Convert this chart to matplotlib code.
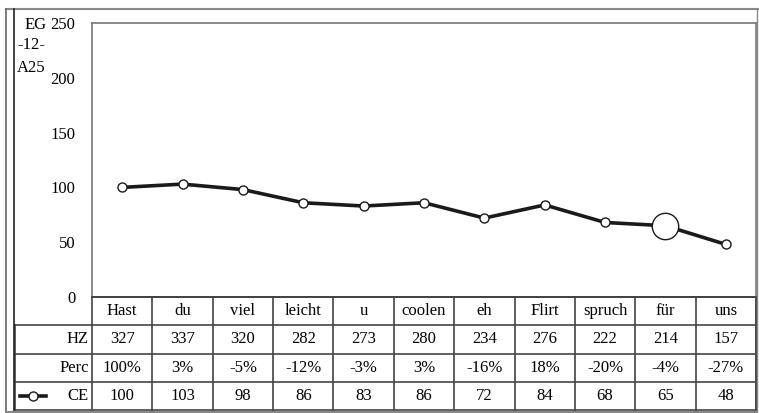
import matplotlib.pyplot as plt
from matplotlib.lines import Line2D

plt.rcParams['font.family'] = ['Liberation Serif', 'DejaVu Serif']

words = ['Hast', 'du', 'viel', 'leicht', 'u', 'coolen', 'eh', 'Flirt', 'spruch', 'für', 'uns']
hz = [327, 337, 320, 282, 273, 280, 234, 276, 222, 214, 157]
perc = ['100%', '3%', '-5%', '-12%', '-3%', '3%', '-16%', '18%', '-20%', '-4%', '-27%']
ce = [100, 103, 98, 86, 83, 86, 72, 84, 68, 65, 48]
big = 'für'

W, H = 759, 413
fig = plt.figure(figsize=(W / 100, H / 100), dpi=100)

def fx(px):
    return px / W

def fy(py):
    return 1 - py / H

# outer frame
frame_c = '#555555'
fig.add_artist(Line2D([fx(6), fx(759)], [fy(9), fy(9)], color='#888888', lw=1.5))
fig.add_artist(Line2D([fx(6), fx(6)], [fy(9), fy(412)], color='#666666', lw=1.2))
fig.add_artist(Line2D([fx(14), fx(14)], [fy(9), fy(412)], color='#222222', lw=1.2))
fig.add_artist(Line2D([fx(6), fx(757)], [fy(412), fy(412)], color='#888888', lw=1.5))
fig.add_artist(Line2D([fx(757), fx(757)], [fy(9), fy(412)], color='#888888', lw=1.0))

left, right, top, bottom = 92, 756, 23, 297
ax = fig.add_axes([fx(left), fy(bottom), fx(right - left), fy(top) - fy(bottom)])
x = list(range(len(words)))
ax.plot(x, ce, color='#1a1a1a', lw=2.6, zorder=2)
small = [i for i, w in enumerate(words) if w != big]
ax.plot(small, [ce[i] for i in small], 'o', ms=6.5, mfc='white', mec='#1a1a1a', mew=1.0, zorder=3)
bi = words.index(big)
ax.plot([bi], [ce[bi]], 'o', ms=19, mfc='white', mec='#1a1a1a', mew=1.0, zorder=3)
ax.set_xlim(-0.5, len(words) - 0.5)
ax.set_ylim(0, 250)
ax.set_yticks([0, 50, 100, 150, 200, 250])
ax.tick_params(axis='y', length=0, pad=12, labelsize=12)
ax.set_xticks([])
for s in ax.spines.values():
    s.set_color('#777777')
    s.set_linewidth(1.2)
ax.spines['bottom'].set_color('#222222')

fig.text(fx(25), fy(25), 'EG', fontsize=12, va='center', ha='left')
fig.text(fx(17), fy(45), '-12-', fontsize=12, va='center', ha='left')
fig.text(fx(17), fy(68), 'A25', fontsize=12, va='center', ha='left')

# data table
tl, tr = 15, 756
rows_y = [297, 327, 357, 384, 410]
colw = (right - left) / len(words)
tab = fig.add_axes([fx(tl), fy(rows_y[-1]), fx(tr - tl), fy(rows_y[0]) - fy(rows_y[-1])])
x0 = -0.5 - (left - tl) / colw
tab.set_xlim(x0, len(words) - 0.5)
tab.set_ylim(len(rows_y) - 1, 0)
tab.axis('off')
lc = '#444444'
for i, yv in enumerate(range(len(rows_y))):
    xs = -0.5 if i == 0 else x0
    tab.plot([xs, len(words) - 0.5], [yv, yv], color=lc, lw=1.2, clip_on=False)
for k in range(len(words) + 1):
    tab.plot([k - 0.5, k - 0.5], [0, len(rows_y) - 1], color=lc, lw=1.2, clip_on=False)
tab.plot([x0, x0], [1, len(rows_y) - 1], color=lc, lw=1.2, clip_on=False)
tab.plot([len(words) - 0.5] * 2, [0, len(rows_y) - 1], color=lc, lw=1.2, clip_on=False)

fs = 12
for i, w in enumerate(words):
    tab.text(i, 0.5, w, ha='center', va='center', fontsize=fs)
    tab.text(i, 1.5, str(hz[i]), ha='center', va='center', fontsize=fs)
    tab.text(i, 2.5, perc[i], ha='center', va='center', fontsize=fs)
    tab.text(i, 3.5, str(ce[i]), ha='center', va='center', fontsize=fs)
lab_x = -0.5 - 3 / colw
tab.text(lab_x, 1.5, 'HZ', ha='right', va='center', fontsize=fs)
tab.text(lab_x, 2.5, 'Perc', ha='right', va='center', fontsize=fs)
tab.text(lab_x, 3.5, 'CE', ha='right', va='center', fontsize=fs)
lx0 = x0 + 5 / colw
lx1 = x0 + 31 / colw
tab.plot([lx0, lx1], [3.5, 3.5], color='#1a1a1a', lw=2.6)
tab.plot([(lx0 + lx1) / 2], [3.5], 'o', ms=6.5, mfc='white', mec='#1a1a1a', mew=1.0)

fig.savefig('out.png', dpi=100)
